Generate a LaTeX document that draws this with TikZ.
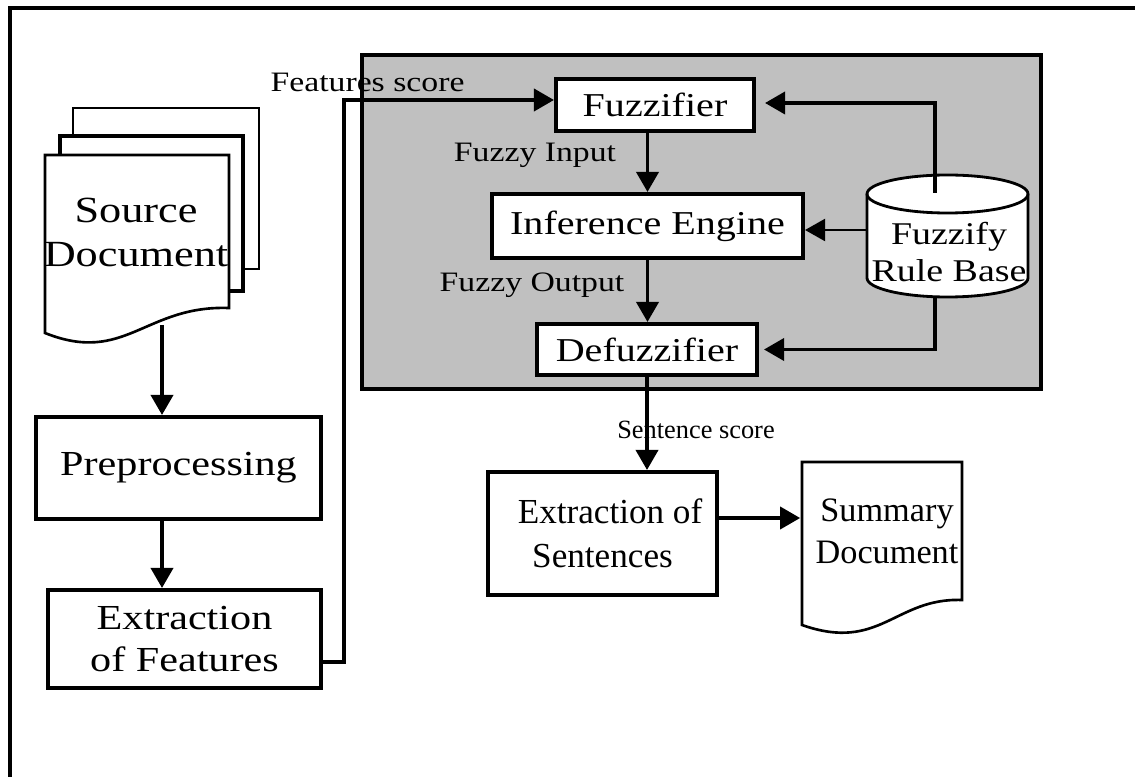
\documentclass[tikz,border=0pt]{standalone}
\usepackage{fontspec}
\setmainfont{Liberation Serif}[FakeStretch=1.2]
\newfontfamily\plainfont{Liberation Serif}
\usetikzlibrary{arrows.meta}
\definecolor{panelgray}{RGB}{192,192,192}

\begin{document}
\begin{tikzpicture}[>={Triangle[length=0.4cm,width=0.44cm]}, line width=2.1pt]
   \useasboundingbox (0,0) rectangle (22.7,-15.54);
   \clip (0,0) rectangle (22.7,-15.54);
   % frame and fuzzy panel
   \draw[line width=2pt] (0.2,-16) -- (0.2,-0.16) -- (23,-0.16);
   \draw[fill=panelgray, line width=1.8pt] (7.24,-1.1) rectangle (20.82,-7.78);
   % source document pages
   \draw[line width=1.2pt, fill=white] (1.46,-2.16) rectangle (5.18,-5.38);
   \draw[line width=1.9pt, fill=white] (1.2,-2.72) rectangle (4.86,-5.82);
   \draw[line width=1.5pt, fill=white] (0.9,-3.1) -- (4.58,-3.1) -- (4.58,-6.16)
      .. controls (2.9,-6.1) and (2.5,-7.3) .. (0.9,-6.66) -- cycle;
   % summary document
   \draw[line width=1.5pt, fill=white] (16.04,-9.24) -- (19.24,-9.24) -- (19.24,-12.0)
      .. controls (17.9,-11.95) and (17.6,-13.05) .. (16.04,-12.5) -- cycle;
   % rule base
   \draw[line width=1.6pt, fill=white] (17.34,-3.88) -- (17.34,-5.56) arc (180:360:1.61 and 0.38)
      -- (20.56,-3.88) arc (0:180:1.61 and 0.38) -- cycle;
   \draw[line width=1.6pt] (17.34,-3.88) arc (180:360:1.61 and 0.38);
   \begin{scope}[every node/.style={draw=black, fill=white, align=center, line width=2.3pt}]
    \node[minimum width=5.7cm, minimum height=2.04cm, font=\fontsize{20}{25}\selectfont] (prep) at (3.57,-9.36) {Preprocessing};
    \node[minimum width=5.46cm, minimum height=1.96cm, font=\fontsize{20}{24}\selectfont] (feat) at (3.69,-12.78) {Extraction\\of Features};
    \node[minimum width=3.96cm, minimum height=1.04cm, font=\fontsize{19}{23}\selectfont] (fuzz) at (13.1,-2.1) {Fuzzifier};
    \node[minimum width=6.22cm, minimum height=1.28cm, font=\fontsize{19}{23}\selectfont] (infer) at (12.95,-4.52) {Inference Engine};
    \node[minimum width=4.4cm, minimum height=1.02cm, font=\fontsize{19}{23}\selectfont] (defuzz) at (12.94,-6.99) {Defuzzifier};
    \node[minimum width=4.58cm, minimum height=2.46cm, font=\fontsize{20}{25}\plainfont] (sent) at (12.05,-10.67) {\hspace*{0.3cm}Extraction of\\Sentences};
   \end{scope}
   \begin{scope}[every node/.style={align=center}]
    \node[font=\fontsize{21}{25}\selectfont] (src) at (2.72,-4.64) {Source\\Document};
    \node[minimum width=3.2cm, inner sep=0pt, font=\fontsize{19.5}{24}\plainfont] (summ) at (17.64,-10.62) {\hspace*{0.2cm}Summary\\\hspace*{0.2cm}Document};
    \node[font=\fontsize{18}{21}\selectfont] (rules) at (18.98,-5.04) {Fuzzify\\Rule Base};
   \end{scope}
   \begin{scope}[every node/.style={font=\fontsize{16}{19}\selectfont}]
    \node (fscore) at (7.35,-1.64) {Features score};
    \node (fin) at (10.7,-3.1) {Fuzzy Input};
    \node (fout) at (10.64,-5.7) {Fuzzy Output};
    \node[font=\fontsize{15}{18}\plainfont] (sscore) at (13.92,-8.6) {Sentence score};
   \end{scope}
   \coordinate (srcbot) at (3.24,-6.5);
   \coordinate (cyltop) at (18.7,-3.86);
   \coordinate (cylleft) at (17.34,-4.6);
   \coordinate (cylbot) at (18.7,-5.93);
   \draw[->] (srcbot) -- (srcbot |- prep.north);
   \draw[->] (prep.south -| srcbot) -- (feat.north -| srcbot);
   \draw[->] ([yshift=-0.46cm]feat.east) -- ++(0.42,0) |- ([yshift=0.1cm]fuzz.west);
   \draw[->] (fuzz.south -| infer) -- (infer);
   \draw[->] (infer.south) -- (infer.south |- defuzz.north);
   \draw[->] (cyltop) |- ([xshift=0.18cm,yshift=0.04cm]fuzz.east);
   \draw[->, line width=1.2pt] (cylleft) -- (cylleft -| infer.east);
   \draw[->] (cylbot) |- ([xshift=0.1cm]defuzz.east);
   \draw[->] (defuzz.south) -- (defuzz.south |- sent.north);
   \draw[->] ([yshift=0.31cm]sent.east) -- ([yshift=0.31cm]sent.east -| summ.west);
\end{tikzpicture}
\end{document}
